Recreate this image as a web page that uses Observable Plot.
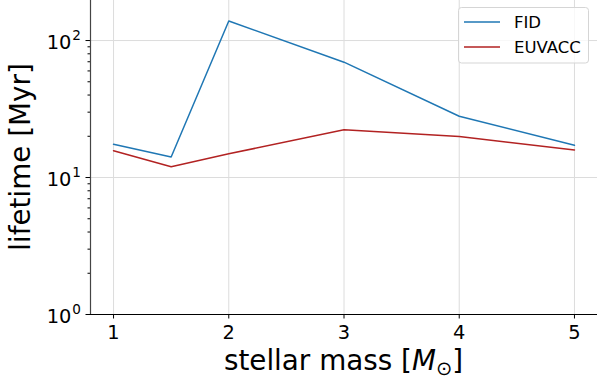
<!DOCTYPE html>
<html>
<head>
<meta charset="utf-8">
<script src="https://cdn.jsdelivr.net/npm/d3@7"></script>
<script src="https://cdn.jsdelivr.net/npm/@observablehq/plot@0.6"></script>
<style>
  html, body { margin: 0; padding: 0; background: #fff; }
  svg { display: block; }
  g[aria-label="x-axis tick label"], g[aria-label="y-axis tick label"] { font-size: 19.4px; }
</style>
</head>
<body>
<div id="chart"></div>
<script>
const masses = [1, 1.5, 2, 3, 4, 5];
const fidLifetime = [17.5, 14.1, 139, 69.5, 28.0, 17.2];
const euvaccLifetime = [15.7, 12.0, 14.9, 22.3, 19.9, 15.9];
const seriesNames = ["FID", "EUVACC"];
const seriesColors = ["#1f77b4", "#b22222"];
const xTicks = [1, 2, 3, 4, 5];
const yMajorTicks = [1, 10, 100];
const yMinorTicks = [2,3,4,5,6,7,8,9,20,30,40,50,60,70,80,90];
const xLabelText = "stellar mass [";
const yLabelText = "lifetime [Myr]";

const rows = [];
masses.forEach((m, i) => {
  rows.push({mass: m, life: fidLifetime[i], series: seriesNames[0]});
  rows.push({mass: m, life: euvaccLifetime[i], series: seriesNames[1]});
});

const font = "DejaVu Sans, Verdana, sans-serif";

const plot = Plot.plot({
  width: 597,
  height: 381,
  marginLeft: 90,
  marginRight: 0,
  marginTop: 0,
  marginBottom: 67,
  style: {fontFamily: font, background: "#fff"},
  x: {domain: [0.8, 5.2]},
  y: {type: "log", domain: [1, 196]},
  color: {domain: seriesNames, range: seriesColors},
  marks: [
    Plot.gridX(xTicks, {stroke: "#dcdcdc", strokeOpacity: 1, strokeWidth: 1}),
    Plot.gridY(yMajorTicks, {stroke: "#dcdcdc", strokeOpacity: 1, strokeWidth: 1}),
    Plot.axisX(xTicks, {tickSize: 4.5, tickPadding: 6, fontSize: 19.4, tickFormat: d => String(d), label: null, stroke: "#000", fill: "#000"}),
    Plot.axisY(yMajorTicks, {tickSize: 4.5, tickPadding: 5, fontSize: 19.4, tickFormat: d => "10|" + Math.round(Math.log10(d)), label: null, stroke: "#000", fill: "#000"}),
    Plot.axisY(yMinorTicks, {tickSize: 2.5, tickFormat: () => "", label: null, stroke: "#000"}),
    Plot.ruleX([0.8], {stroke: "#444", strokeWidth: 1.2}),
    Plot.ruleY([1], {stroke: "#000", strokeWidth: 1.2}),
    Plot.line(rows, {x: "mass", y: "life", z: "series", stroke: "series", strokeWidth: 1.5})
  ]
});

document.getElementById("chart").appendChild(plot);

const svg = d3.select(plot);

// turn "10|n" y tick labels into 10 with a real superscript exponent
svg.selectAll('g[aria-label="y-axis tick label"] text').each(function() {
  const [base, exp] = this.textContent.split("|");
  const t = d3.select(this);
  t.text(null);
  t.append("tspan").attr("dy", 2).text(base);
  t.append("tspan").attr("font-size", 13.6).attr("dx", 1).attr("dy", -8.3).text(exp);
});

// x-axis label with italic M and subscript sun symbol
const xl = svg.append("text")
  .attr("x", 343.5).attr("y", 370)
  .attr("text-anchor", "middle")
  .attr("font-family", font).attr("font-size", 27.8).attr("fill", "#000");
xl.append("tspan").text(xLabelText);
xl.append("tspan").attr("font-style", "italic").text("M");
xl.append("tspan").attr("font-size", 19.5).attr("dy", 5).text("\u2299");
xl.append("tspan").attr("dy", -5).text("]");

// y-axis label
svg.append("text")
  .attr("transform", "translate(30,157) rotate(-90)")
  .attr("text-anchor", "middle")
  .attr("font-family", font).attr("font-size", 27.8).attr("fill", "#000")
  .text(yLabelText);

// legend
const lg = svg.append("g");
lg.append("rect").attr("x", 458.5).attr("y", 7.5).attr("width", 130).attr("height", 55.5)
  .attr("rx", 3).attr("fill", "#fff").attr("fill-opacity", 0.8).attr("stroke", "#d5d5d5");
seriesNames.forEach((name, i) => {
  const y = 22 + i * 25;
  lg.append("line").attr("x1", 464).attr("x2", 500).attr("y1", y).attr("y2", y)
    .attr("stroke", seriesColors[i]).attr("stroke-width", 1.5);
  lg.append("text").attr("x", 514).attr("y", y + 6)
    .attr("text-anchor", "start")
    .attr("font-family", font).attr("font-size", 16.5).attr("fill", "#000").text(name);
});
</script>
</body>
</html>
